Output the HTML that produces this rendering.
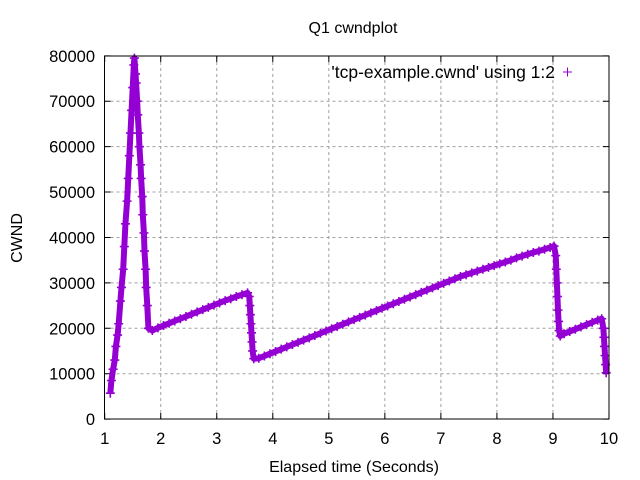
<!DOCTYPE html>
<html><head><meta charset="utf-8"><style>
body{margin:0;background:#fff}
svg{display:block;font-family:"Liberation Sans",sans-serif}
</style></head><body>
<svg id="c" width="640" height="480" viewBox="0 0 640 480">
<text x="353" y="33" font-size="16" text-anchor="middle">Q1 cwndplot</text>
<g id="grid"></g><g id="ticks"></g><g id="marks"></g>
<rect x="104.5" y="56" width="504.5" height="363" fill="none" stroke="#000" stroke-width="1"/>
<text x="354" y="472" font-size="16" text-anchor="middle">Elapsed time (Seconds)</text>
<text transform="translate(22,238) rotate(-90)" font-size="16" text-anchor="middle">CWND</text>
<g>
<text x="555" y="78" font-size="17.5" text-anchor="end">'tcp-example.cwnd' using 1:2</text>
<path d="M563 72h9M567.5 67.5v9" stroke="#9400d3" stroke-width="1"/>
</g>
</svg>
<script>
const xTicks=[1,2,3,4,5,6,7,8,9,10];
const yTicks=[0,10000,20000,30000,40000,50000,60000,70000,80000];
const times=[1.10,1.12,1.15,1.18,1.20,1.23,1.25,1.28,1.30,1.33,1.35,1.37,1.40,1.42,1.44,1.46,1.48,1.50,1.52,1.53,1.55,1.56,1.58,1.59,1.61,1.62,1.64,1.65,1.67,1.68,1.70,1.71,1.73,1.74,1.76,1.78,
1.85,1.95,2.05,2.15,2.25,2.35,2.45,2.55,2.65,2.75,2.85,2.95,3.05,3.15,3.25,3.35,3.45,3.55,3.58,3.59,3.60,3.61,3.62,3.63,3.64,3.66,
3.75,3.85,3.95,4.05,4.15,4.25,4.35,4.45,4.55,4.65,4.75,4.85,4.95,5.05,5.15,5.25,5.35,5.45,5.55,5.65,5.75,5.85,5.95,6.05,6.15,6.25,6.35,6.45,6.55,6.65,6.75,6.85,6.95,7.05,7.15,7.25,7.35,7.45,7.55,7.65,7.75,7.85,7.95,8.05,8.15,8.25,8.35,8.45,8.55,8.65,8.75,8.85,8.95,9.02,9.05,9.06,9.07,9.08,9.09,9.10,9.11,9.13,
9.20,9.30,9.40,9.50,9.60,9.70,9.80,9.87,9.90,9.91,9.92,9.93,9.94,9.95];
const cwnd=[5700,8500,11000,13000,16000,18500,21000,26000,29000,33000,38000,43000,48000,53000,58000,63000,68000,73000,78000,79500,76000,74000,70000,67000,63000,60000,56000,53000,49000,45000,41000,37000,33000,29000,25000,20000,
19500,20100,20600,21100,21600,22100,22600,23100,23600,24100,24600,25100,25600,26100,26500,27000,27400,27800,27000,25000,23000,21000,19000,17000,15000,13300,
13400,13900,14400,14900,15400,15900,16400,16900,17400,17900,18400,18900,19400,19900,20400,20900,21400,21900,22400,22900,23400,23900,24400,24900,25400,25900,26400,26900,27400,27900,28400,28900,29400,29900,30400,30900,31400,31800,32200,32600,33000,33400,33800,34200,34600,35000,35500,35900,36300,36700,37000,37400,37800,38100,36000,33000,30000,27000,24000,21500,19500,18300,
18800,19300,19800,20300,20800,21300,21800,22100,20000,18000,16000,14000,12000,10200];
const X=v=>104.7+(v-1)*56.03, Y=v=>419.1-v*0.004541;
const NS="http://www.w3.org/2000/svg";
const grid=document.getElementById('grid'),ticks=document.getElementById('ticks'),marks=document.getElementById('marks');
function mk(tag,attrs,parent){const e=document.createElementNS(NS,tag);for(const k in attrs)e.setAttribute(k,attrs[k]);parent.appendChild(e);return e;}
xTicks.forEach(t=>{const x=X(t);
 if(t>1&&t<10){const g=mk('line',{x1:x,x2:x,y1:56,y2:419,stroke:'#a0a0a0','stroke-dasharray':'3,3'},grid);
 
 }
 const tk=mk('path',{d:`M${x} 419v-6M${x} 56v6`,stroke:'#000'},ticks);
 
 
 const l=mk('text',{x:x,y:444,'font-size':16.5,'text-anchor':'middle'},ticks);l.textContent=t;
 
 
});
yTicks.forEach(t=>{const y=Y(t);
 if(t>0&&t<80000){const g=mk('line',{x1:104.5,x2:609,y1:y,y2:y,stroke:'#a0a0a0','stroke-dasharray':'3,3'},grid);
 
 }
 const tk=mk('path',{d:`M104.5 ${y}h6M609 ${y}h-6`,stroke:'#000'},ticks);
 
 
 const l=mk('text',{x:95,y:y+6,'font-size':16.5,'text-anchor':'end'},ticks);l.textContent=t;
 
 
});
const band=mk('polyline',{points:times.map((t,i)=>X(t)+','+Y(cwnd[i])).join(' '),fill:'none',stroke:'#9400d3','stroke-width':6,'stroke-linejoin':'round'},marks);


times.forEach((t,i)=>{const x=X(t),y=Y(cwnd[i]);
 const p=mk('path',{d:`M${x-4.5} ${y}h9M${x} ${y-4.5}v9`,stroke:'#9400d3','stroke-width':1.6},marks);
 
 
});
</script>
</body></html>
